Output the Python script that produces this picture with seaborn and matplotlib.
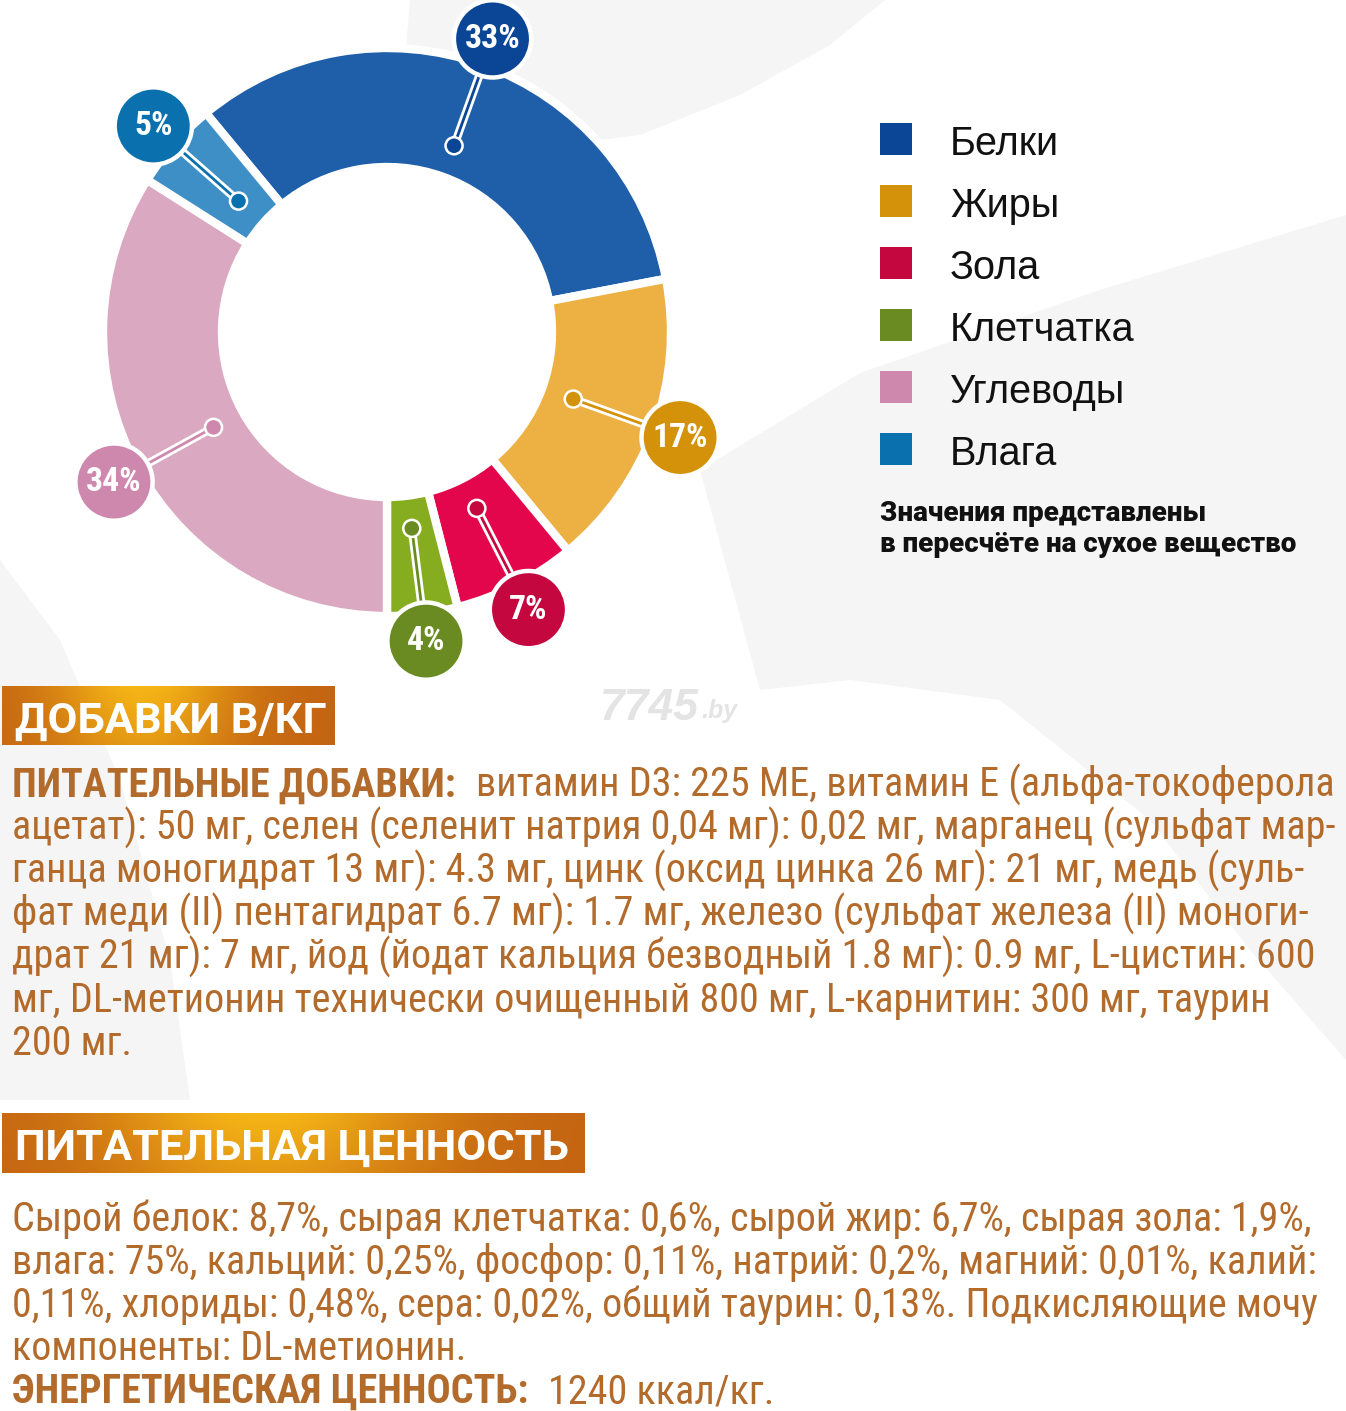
import numpy as np
import matplotlib
matplotlib.use("Agg")
import matplotlib.pyplot as plt
import seaborn as sns
from matplotlib import font_manager as fm
from matplotlib.patches import Circle, Rectangle, Polygon
import matplotlib.patheffects as pe

# ---------------- data ----------------
categories = ["Белки", "Жиры", "Зола", "Клетчатка", "Углеводы", "Влага"]
values = [33, 17, 7, 4, 34, 5]
wedge_colors = ["#1f5fa9", "#ecb043", "#e3064c", "#86ad1f", "#daa8c0", "#3d8fc6"]
dark_colors = ["#0b4595", "#d4920a", "#c4073f", "#6a8b22", "#cf88ad", "#0a70ae"]
pct_labels = [f"{v}%" for v in values]

note_lines = ["Значения представлены", "в пересчёте на сухое вещество"]

banner1 = "ДОБАВКИ В/КГ"
banner2 = "ПИТАТЕЛЬНАЯ ЦЕННОСТЬ"

block1_bold = "ПИТАТЕЛЬНЫЕ ДОБАВКИ:"
block1_lines = [
    "витамин D3: 225 МЕ, витамин Е (альфа-токоферола",
    "ацетат): 50 мг, селен (селенит натрия 0,04 мг): 0,02 мг, марганец (сульфат мар-",
    "ганца моногидрат 13 мг): 4.3 мг, цинк (оксид цинка 26 мг): 21 мг, медь (суль-",
    "фат меди (II) пентагидрат 6.7 мг): 1.7 мг, железо (сульфат железа (II) моноги-",
    "драт 21 мг): 7 мг, йод (йодат кальция безводный 1.8 мг): 0.9 мг, L-цистин: 600",
    "мг, DL-метионин технически очищенный 800 мг, L-карнитин: 300 мг, таурин",
    "200 мг.",
]
block2_lines = [
    "Сырой белок: 8,7%, сырая клетчатка: 0,6%, сырой жир: 6,7%, сырая зола: 1,9%,",
    "влага: 75%, кальций: 0,25%, фосфор: 0,11%, натрий: 0,2%, магний: 0,01%, калий:",
    "0,11%, хлориды: 0,48%, сера: 0,02%, общий таурин: 0,13%. Подкисляющие мочу",
    "компоненты: DL-метионин.",
]
energy_bold = "ЭНЕРГЕТИЧЕСКАЯ ЦЕННОСТЬ:"
energy_text = "1240 ккал/кг."
watermark = ("7745", ".by")

# ---------------- style / fonts ----------------
sns.set_theme(style="white")
plt.rcParams["font.family"] = ["Roboto", "DejaVu Sans"]


def wnum(w):
    if isinstance(w, (int, float)):
        return w
    return fm.weight_dict.get(w, 400)


def pick(names, weight=400, style="normal"):
    for n in names:
        c = [f for f in fm.fontManager.ttflist if f.name == n and f.style == style]
        if c:
            f = min(c, key=lambda f: abs(wnum(f.weight) - weight))
            if abs(wnum(f.weight) - weight) <= 150:
                return fm.FontProperties(fname=f.fname)
    return fm.FontProperties(family="DejaVu Sans", weight=weight, style=style)


f_body = pick(["Roboto Condensed", "Liberation Sans Narrow", "Roboto", "Liberation Sans"], 400)
f_body_b = pick(["Roboto Condensed", "Liberation Sans Narrow", "Roboto", "Liberation Sans"], 700)
f_banner = pick(["Roboto", "Open Sans", "Liberation Sans"], 700)
f_legend = pick(["Liberation Sans", "Roboto"], 400)
f_note = pick(["Roboto", "Liberation Sans"], 900)
f_bubble = pick(["Roboto Condensed", "Liberation Sans Narrow", "Roboto", "Liberation Sans"], 700)
f_wm = pick(["Liberation Sans", "Roboto"], 700, "italic")

W, H = 1346, 1411
fig = plt.figure(figsize=(W / 100, H / 100), dpi=100, facecolor="white")
bg = fig.add_axes([0, 0, 1, 1])
bg.set_xlim(0, W)
bg.set_ylim(H, 0)
bg.axis("off")
renderer = fig.canvas.get_renderer()


def fp(base, size):
    p = base.copy()
    p.set_size(size)
    return p


def width_of(s, base, size):
    t = bg.text(0, 0, s, fontproperties=fp(base, size))
    w = t.get_window_extent(renderer).width
    t.remove()
    return w


def fit(pairs, base, cap=None):
    sizes = [10 * tw / width_of(s, base, 10) for s, tw in pairs]
    s = float(np.median(sizes))
    if cap:
        s = min(s, cap)
    return s


def put(x, y, s, base, size, color, ha="left", z=5):
    return bg.text(x, y, s, fontproperties=fp(base, size), color=color,
                   ha=ha, va="baseline", zorder=z)


# ---------------- background decoration (faint leaf shapes) ----------------
deco = "#f5f5f5"
bg.add_patch(Polygon([(410, 0), (885, 0), (830, 45), (740, 95), (640, 135),
                      (520, 150), (430, 140), (405, 60)], closed=True,
                     fc=deco, ec="none", zorder=0))
bg.add_patch(Polygon([(700, 470), (860, 373), (1100, 290), (1346, 215),
                      (1346, 1060), (1250, 950), (1150, 820), (1000, 700),
                      (850, 680), (760, 690)],
                     closed=True, fc=deco, ec="none", zorder=0))
bg.add_patch(Polygon([(0, 560), (60, 640), (120, 780), (170, 960), (190, 1100),
                      (0, 1100)], closed=True, fc=deco, ec="none", zorder=0))

# watermark
wm_size = 32
t_wm = put(600, 720, watermark[0], f_wm, wm_size, "#e4e4e4", z=1)
wm_w = t_wm.get_window_extent(renderer).width
put(600 + wm_w + 2, 718, watermark[1], f_wm, 18, "#e4e4e4", z=1)

# ---------------- donut ----------------
R_PX = 284.0
CX, CY = 387, 332
HALF = 740.0
Hd = HALF / 2 / R_PX
pax = fig.add_axes([(CX - HALF / 2) / W, (H - CY - HALF / 2) / H, HALF / W, HALF / H])
start = -90 + 360 * sum(values[:4]) / sum(values)
wedges, _ = pax.pie(values, colors=wedge_colors, startangle=start, counterclock=False,
                    radius=1.0,
                    wedgeprops=dict(width=0.419, edgecolor="white", linewidth=6))
pax.set_xlim(-Hd, Hd)
pax.set_ylim(-Hd, Hd)
pax.axis("off")
pax.patch.set_visible(False)

r_dot, r_bub, bub_rad = 0.697, 1.097, 0.136
bubble_size = fit([("33%", 56), ("17%", 56), ("34%", 56)], f_bubble)
for w, dc, lab in zip(wedges, dark_colors, pct_labels):
    a = np.deg2rad((w.theta1 + w.theta2) / 2)
    dx, dy = r_dot * np.cos(a), r_dot * np.sin(a)
    bx, by = r_bub * np.cos(a), r_bub * np.sin(a)
    pax.plot([dx, bx], [dy, by], color=dc, lw=2.0, solid_capstyle="butt",
             path_effects=[pe.Stroke(linewidth=6.0, foreground="white"), pe.Normal()],
             zorder=3, clip_on=False)
    pax.add_patch(Circle((dx, dy), 0.03, fc=dc, ec="white", lw=1.8, zorder=4, clip_on=False))
    pax.add_patch(Circle((bx, by), bub_rad, fc=dc, ec="white", lw=3.2, zorder=5, clip_on=False))
    pax.text(bx, by, lab, fontproperties=fp(f_bubble, bubble_size), color="white",
             ha="center", va="center", zorder=6, clip_on=False)

# ---------------- legend ----------------
leg_size = fit([("Белки", 112), ("Клетчатка", 187), ("Углеводы", 176), ("Влага", 107)],
               f_legend)
for i, (cat, col) in enumerate(zip(categories, dark_colors)):
    y0 = 123 + 62 * i
    bg.add_patch(Rectangle((880, y0), 32, 32, fc=col, ec="none", zorder=3))
    put(950, y0 + 32, cat, f_legend, leg_size, "#111111")

note_size = fit([(note_lines[0], 326), (note_lines[1], 413)], f_note)
put(880, 521, note_lines[0], f_note, note_size, "#111111")
put(880, 552, note_lines[1], f_note, note_size, "#111111")

# ---------------- banners ----------------
def banner(x0, x1, y0, y1, peak):
    nx, ny = 300, 40
    t = np.linspace(0, 1, nx)[None, :]
    v = np.linspace(0, 1, ny)[:, None]
    f = np.exp(-((t - peak) / 0.28) ** 2) * (1 - 0.35 * v)
    edge = np.array([196, 100, 18]) / 255
    top = np.array([246, 182, 22]) / 255
    img = edge[None, None, :] + (top - edge)[None, None, :] * f[:, :, None]
    bg.imshow(np.clip(img, 0, 1), extent=(x0, x1, y1, y0), origin="upper",
              aspect="auto", zorder=2, interpolation="bilinear")


banner(2, 335, 686, 745, 0.42)
banner(2, 585, 1113, 1173, 0.45)
ban_size = fit([(banner1, 310), (banner2, 553)], f_banner)
put(15, 733, banner1, f_banner, ban_size, "white", z=4)
put(15, 1160, banner2, f_banner, ban_size, "white", z=4)

# ---------------- body text ----------------
body_color = "#b36b2c"
GAP = 20
body_size = fit([(block1_lines[1], 1328), (block1_lines[2], 1301), (block1_lines[3], 1304),
                 (block1_lines[4], 1306), (block1_lines[5], 1271),
                 (block2_lines[0], 1306), (block2_lines[1], 1310), (block2_lines[2], 1314)],
                f_body)
# make sure the first (longest) line stays inside the picture
l1 = width_of(block1_bold, f_body_b, body_size) + GAP + width_of(block1_lines[0], f_body, body_size)
if 12 + l1 > 1338:
    body_size *= (1338 - 12 - GAP) / (l1 - GAP)

tb = put(12, 797, block1_bold, f_body_b, body_size, body_color)
bw = tb.get_window_extent(renderer).width
put(12 + bw + GAP, 797, block1_lines[0], f_body, body_size, body_color)
for i, line in enumerate(block1_lines[1:], start=1):
    put(12, 797 + 43 * i, line, f_body, body_size, body_color)

for i, line in enumerate(block2_lines):
    put(12, 1231 + 43 * i, line, f_body, body_size, body_color)
te = put(12, 1403, energy_bold, f_body_b, body_size, body_color)
ew = te.get_window_extent(renderer).width
put(12 + ew + GAP, 1403, energy_text, f_body, body_size, body_color)

bg.set_xlim(0, W)
bg.set_ylim(H, 0)
fig.savefig("out.png", dpi=100, facecolor="white")
